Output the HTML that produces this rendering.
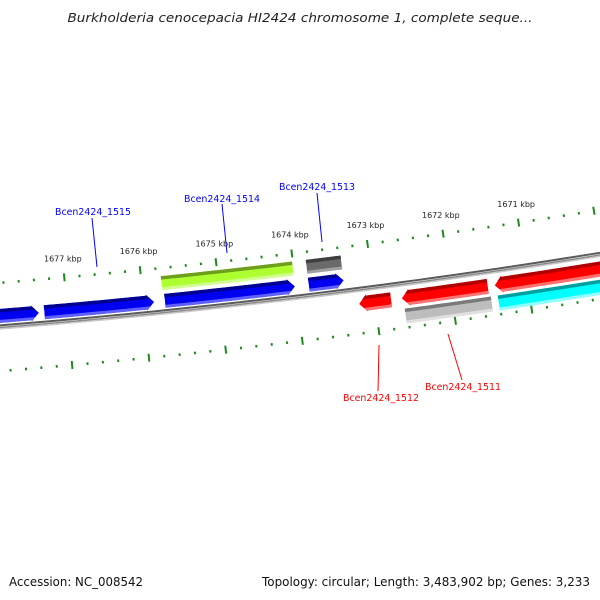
<!DOCTYPE html>
<html><head><meta charset="utf-8">
<style>
html,body{margin:0;padding:0;background:#fff;}
svg{display:block;}
text{font-family:"DejaVu Sans","Liberation Sans",sans-serif;}
</style></head>
<body>
<svg id="map" width="600" height="600" viewBox="0 0 600 600" xmlns="http://www.w3.org/2000/svg">
  <rect x="0" y="0" width="600" height="600" fill="#fff"/>
  <text x="300" y="22" text-anchor="middle" font-size="12" font-style="italic" fill="#222" textLength="465" lengthAdjust="spacingAndGlyphs">Burkholderia cenocepacia HI2424 chromosome 1, complete seque...</text>
  <g id="ticks"></g>
  <g id="backbone"></g>
  <g id="genes"></g>
  <g id="labels"></g>
  <text x="9" y="586" font-size="12" fill="#111" textLength="134" lengthAdjust="spacingAndGlyphs">Accession: NC_008542</text>
  <text x="262" y="586" font-size="12" fill="#111" textLength="328" lengthAdjust="spacingAndGlyphs">Topology: circular; Length: 3,483,902 bp; Genes: 3,233</text>
</svg>
<script>
// data
const majorTicks = [1679, 1678, 1677, 1676, 1675, 1674, 1673, 1672, 1671, 1670, 1669];
const tickLabels = ["1677 kbp","1676 kbp","1675 kbp","1674 kbp","1673 kbp","1672 kbp","1671 kbp"];
const tickLabelPos = [1677, 1676, 1675, 1674, 1673, 1672, 1671];
const geneStart = [1678.6, 1677.30, 1675.72, 1673.83, 1675.74, 1673.83, 1673.21, 1672.65, 1671.43, 1672.63, 1671.41];
const geneEnd   = [1677.37, 1675.86, 1674.01, 1673.37, 1674.01, 1673.37, 1672.79, 1671.52, 1668.0, 1671.50, 1668.0];
const geneStrand = [1, 1, 1, 1, 0, 0, -1, -1, -1, 0, 0];
const geneTrack = ["fwd", "fwd", "fwd", "fwd", "fwdOuter", "fwdOuter", "rev", "rev", "rev", "revOuter", "revOuter"];
const geneKind = ["blue","blue","blue","blue","green","dgray","red","red","red","lgray","cyan"];

const NS = "http://www.w3.org/2000/svg";
const CX = -600, CY = -7149, R0 = 7500, PHI0 = 0.1199, DPHI = 0.01023;
const trackR = {fwd:[-18,-4], fwdOuter:[-36,-22], rev:[7,22], revOuter:[25,40]};
const palette = {
  blue:{base:"#0000f0", dark:"#000090", light:"#6060ff"},
  green:{base:"#adff2f", dark:"#6e9e1e", light:"#d0ff90"},
  dgray:{base:"#6a6a6a", dark:"#3e3e3e", light:"#a0a0a0"},
  red:{base:"#ff0000", dark:"#b00000", light:"#ff7070"},
  lgray:{base:"#bdbdbd", dark:"#7a7a7a", light:"#e0e0e0"},
  cyan:{base:"#00ffff", dark:"#00a0a0", light:"#90ffff"}
};
function phi(k){ return PHI0 + (1674 - k) * DPHI; }
function pt(k, r){ const p = phi(k); return [CX + r*Math.sin(p), CY + r*Math.cos(p)]; }
function arcPts(k1, k2, r, n){ const a=[]; for(let i=0;i<=n;i++){ a.push(pt(k1+(k2-k1)*i/n, r)); } return a; }
function ptsStr(a){ return a.map(p=>p[0].toFixed(2)+","+p[1].toFixed(2)).join(" "); }

// ticks
const tg = document.getElementById("ticks");
[-44, 44].forEach((off, ti) => {
  for (let k = 1680; k >= 1667.5; k = Math.round((k - 0.2)*10)/10) {
    const major = majorTicks.indexOf(Math.round(k*10)/10) >= 0 && Math.abs(k - Math.round(k)) < 1e-6;
    const len = major ? 4 : 1.3;
    const a = pt(k, R0 + off - len), b = pt(k, R0 + off + len);
    const l = document.createElementNS(NS, "line");
    
    
    l.setAttribute("x1", a[0]); l.setAttribute("y1", a[1]);
    l.setAttribute("x2", b[0]); l.setAttribute("y2", b[1]);
    l.setAttribute("stroke", "#1e8a1e"); l.setAttribute("stroke-width", "2");
    tg.appendChild(l);
  }
});
tickLabels.forEach((t, i) => {
  const p = pt(tickLabelPos[i], R0 - 60);
  const tx = document.createElementNS(NS, "text");
  
  
  tx.setAttribute("x", p[0]); tx.setAttribute("y", p[1]);
  tx.setAttribute("text-anchor", "middle"); tx.setAttribute("font-size", "8"); tx.setAttribute("fill", "#222");
  tx.textContent = t;
  tg.appendChild(tx);
});

// backbone
const bb = document.getElementById("backbone");
[[R0-1.6, "#5a5a5a", 2], [R0+0.6, "#8a8a8a", 1.6], [R0+2, "#c8c8c8", 1.4]].forEach(s => {
  const pl = document.createElementNS(NS, "polyline");
  
  
  pl.setAttribute("points", ptsStr(arcPts(1680, 1667, s[0], 60)));
  pl.setAttribute("fill", "none"); pl.setAttribute("stroke", s[1]); pl.setAttribute("stroke-width", s[2]);
  bb.appendChild(pl);
});

// genes
const gg = document.getElementById("genes");
const defs = document.createElementNS(NS, "defs");
document.getElementById("map").appendChild(defs);
geneStart.forEach((ks, i) => {
  const ke = geneEnd[i];
  const [ri, ro] = trackR[geneTrack[i]].map(o => R0 + o);
  const rm = (ri + ro) / 2;
  const col = palette[geneKind[i]];
  const ah = 0.1;
  let k1 = ks, k2 = ke;
  let pts;
  if (geneStrand[i] === 1) {
    const kb = k2 + ah;
    pts = arcPts(k1, kb, ri, 20).concat([pt(kb, ri-1), pt(k2, rm), pt(kb, ro+1)], arcPts(kb, k1, ro, 20));
  } else if (geneStrand[i] === -1) {
    const kb = k1 - ah;
    pts = [pt(k1, rm), pt(kb, ri-1)].concat(arcPts(kb, k2, ri, 20), arcPts(k2, kb, ro, 20), [pt(kb, ro+1)]);
  } else {
    pts = arcPts(k1, k2, ri, 20).concat(arcPts(k2, k1, ro, 20));
  }
  const cp = document.createElementNS(NS, "clipPath");
  cp.setAttribute("id", "gclip" + i);
  const cpp = document.createElementNS(NS, "polygon");
  cpp.setAttribute("points", ptsStr(pts));
  cp.appendChild(cpp); defs.appendChild(cp);

  const g = document.createElementNS(NS, "g");
  
  
  g.setAttribute("clip-path", "url(#gclip" + i + ")");
  const base = document.createElementNS(NS, "polygon");
  
  
  base.setAttribute("points", ptsStr(pts)); base.setAttribute("fill", col.base);
  g.appendChild(base);
  const kA = Math.max(k1, k2) + 0.2, kB = Math.min(k1, k2) - 0.2;
  const dark = document.createElementNS(NS, "polygon");
  
  
  dark.setAttribute("points", ptsStr(arcPts(kA, kB, ri - 3, 20).concat(arcPts(kB, kA, ri + 3.5, 20))));
  dark.setAttribute("fill", col.dark);
  g.appendChild(dark);
  const light = document.createElementNS(NS, "polygon");
  
  
  light.setAttribute("points", ptsStr(arcPts(kA, kB, ro - 3, 20).concat(arcPts(kB, kA, ro + 3, 20))));
  light.setAttribute("fill", col.light);
  g.appendChild(light);
  gg.appendChild(g);
});
</script>
<svg style="position:absolute;left:0;top:0" width="600" height="600">
  <g font-family="DejaVu Sans, Liberation Sans, sans-serif" font-size="10">
    <line x1="92" y1="218" x2="97" y2="267" stroke="#0000ff" stroke-width="1"/>
    <text x="93" y="215" text-anchor="middle" fill="#0000ff" textLength="76" lengthAdjust="spacingAndGlyphs">Bcen2424_1515</text>
    <line x1="222" y1="204" x2="227" y2="253" stroke="#0000ff" stroke-width="1"/>
    <text x="222" y="202" text-anchor="middle" fill="#0000ff" textLength="76" lengthAdjust="spacingAndGlyphs">Bcen2424_1514</text>
    <line x1="317" y1="193" x2="322" y2="242" stroke="#0000ff" stroke-width="1"/>
    <text x="317" y="190" text-anchor="middle" fill="#0000ff" textLength="76" lengthAdjust="spacingAndGlyphs">Bcen2424_1513</text>
    <line x1="379" y1="345" x2="378" y2="391" stroke="#ff0000" stroke-width="1"/>
    <text x="381" y="401" text-anchor="middle" fill="#ff0000" textLength="76" lengthAdjust="spacingAndGlyphs">Bcen2424_1512</text>
    <line x1="448" y1="334" x2="462" y2="380" stroke="#ff0000" stroke-width="1"/>
    <text x="463" y="390" text-anchor="middle" fill="#ff0000" textLength="76" lengthAdjust="spacingAndGlyphs">Bcen2424_1511</text>
  </g>
</svg>
</body></html>
